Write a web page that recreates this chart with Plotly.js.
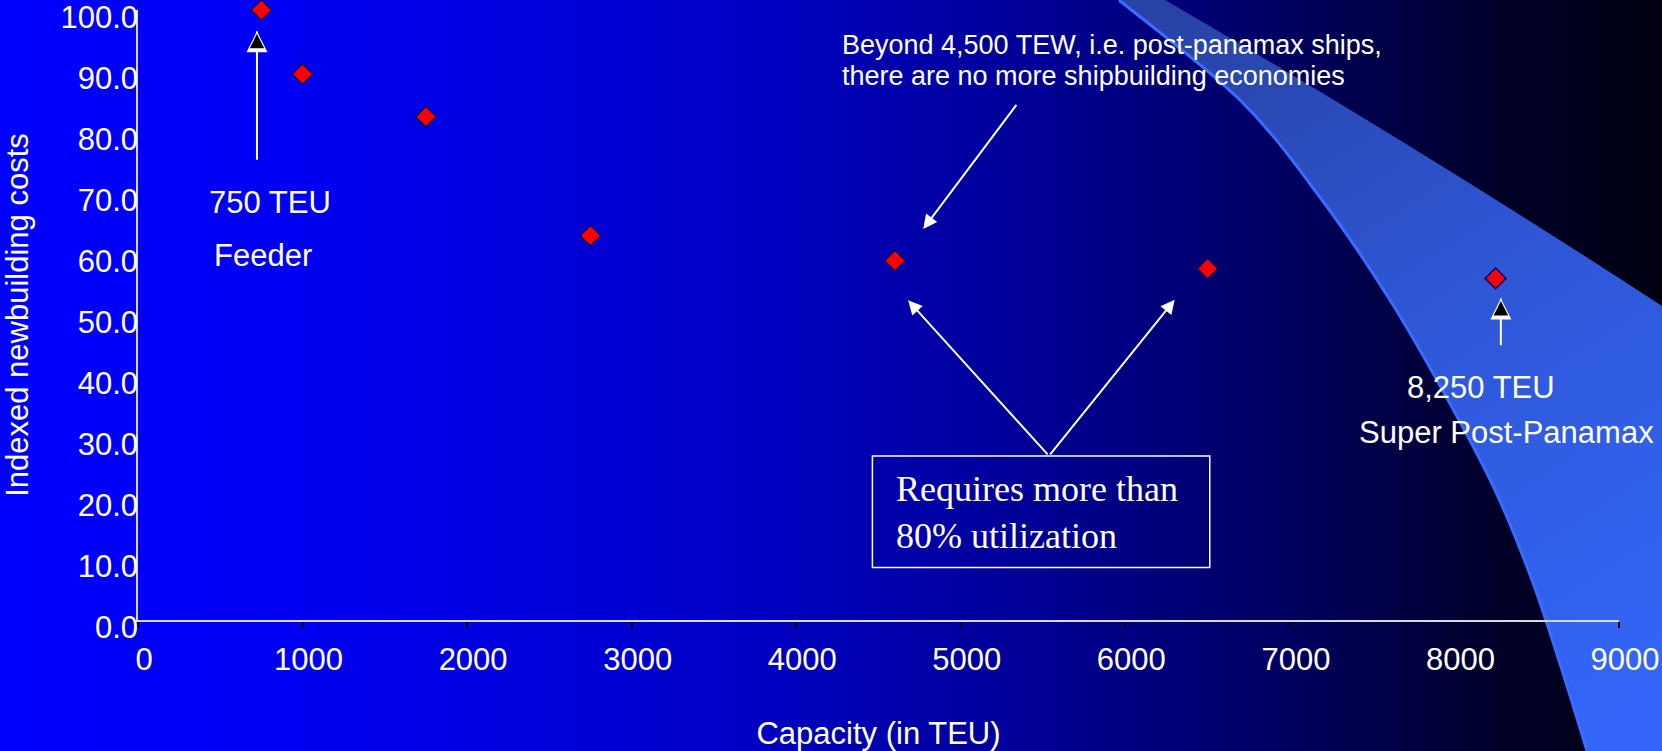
<!DOCTYPE html>
<html>
<head>
<meta charset="utf-8">
<script src="https://cdn.plot.ly/plotly-3.0.1.min.js"></script>
<style>
  html, body { margin: 0; padding: 0; overflow: hidden; }
  #wrap {
    position: relative; width: 1662px; height: 751px;
    background: linear-gradient(to right, #0000FF 0%, #0000F0 20%, #0000C4 45%, #000096 62%, #00005E 78%, #000028 90%, #000012 100%);
  }
  #deco { position: absolute; left: 0; top: 0; }
  #chart { position: absolute; left: 0; top: 0; width: 1662px; height: 751px; }
</style>
</head>
<body>
<div id="wrap">
  <svg id="deco" width="1662" height="751" xmlns="http://www.w3.org/2000/svg">
    <defs>
      <linearGradient id="sw" gradientUnits="userSpaceOnUse" x1="1200" y1="0" x2="1640" y2="700">
        <stop offset="0" stop-color="#2843A6"/>
        <stop offset="0.45" stop-color="#2E56D4"/>
        <stop offset="1" stop-color="#3366F8"/>
      </linearGradient>
    </defs>
    <path id="swfill" fill="url(#sw)" stroke="none"></path>
    <path id="swedge" fill="none" stroke="#3A6CFF" stroke-width="3"></path>
  </svg>
  <div id="chart"></div>
</div>
<script>
// ---- data ----
const capacityTEU = [750, 1000, 1750, 2750, 4600, 6500, 8250];
const indexedCost = [100.0, 89.5, 82.5, 63.0, 58.9, 57.6, 56.0];
const xTickValues = [0, 1000, 2000, 3000, 4000, 5000, 6000, 7000, 8000, 9000];
const yTickValues = [0, 10, 20, 30, 40, 50, 60, 70, 80, 90, 100];

// ---- decorative background swoosh (pixels) ----
const swooshLeftEdge = [[1119,0],[1240,100],[1322,200],[1390,300],[1448,400],[1495,490],[1532,580],[1562,670],[1587,751]];
function catmull(pts) {
  let d = `M${pts[0][0]},${pts[0][1]}`;
  for (let i = 0; i < pts.length - 1; i++) {
    const p0 = pts[Math.max(i-1,0)], p1 = pts[i], p2 = pts[i+1], p3 = pts[Math.min(i+2, pts.length-1)];
    const c1 = [p1[0] + (p2[0]-p0[0])/6, p1[1] + (p2[1]-p0[1])/6];
    const c2 = [p2[0] - (p3[0]-p1[0])/6, p2[1] - (p3[1]-p1[1])/6];
    d += ` C${c1[0]},${c1[1]} ${c2[0]},${c2[1]} ${p2[0]},${p2[1]}`;
  }
  return d;
}
const edge = catmull(swooshLeftEdge);
document.getElementById('swedge').setAttribute('d', edge);
document.getElementById('swfill').setAttribute('d', edge + ' L1662,751 L1662,306 Q1420,148 1165,0 Z');

const FONT = 'Liberation Sans, Arial, sans-serif';
const SERIF = 'Liberation Serif, Times New Roman, serif';
const W = '#FFFFFF';

const trace = {
  type: 'scatter', mode: 'markers',
  x: capacityTEU, y: indexedCost,
  cliponaxis: false,
  marker: { symbol: 'diamond', size: 16, color: '#FF0000', line: { color: '#000066', width: 1.5 } },
  hoverinfo: 'x+y'
};

function arrow(x, y, ax, ay, opts) {
  return Object.assign({ x, y, ax, ay, axref: 'x', ayref: 'y', xref: 'x', yref: 'y', text: '', showarrow: true,
    arrowhead: 2, arrowsize: 1.4, arrowwidth: 2, arrowcolor: W }, opts || {});
}
function head(x, y) {
  // black filled head with white outline: white big head + black small head on top
  return [
    { x, y, ax: 0, ay: 8, xref: 'x', yref: 'y', text: '', showarrow: true, arrowhead: 2, arrowsize: 2.1, arrowwidth: 2, arrowcolor: W },
    { x, y, ax: 0, ay: 8, xref: 'x', yref: 'y', text: '', showarrow: true, arrowhead: 2, arrowsize: 1.45, arrowwidth: 2, arrowcolor: '#000000', standoff: 2.5 }
  ];
}
function label(x, y, text, size, extra) {
  return Object.assign({ x, y, xref: 'x', yref: 'y', text, showarrow: false, font: { family: FONT, size, color: W } }, extra || {});
}

const annotations = [
  // feeder
  arrow(723, 96.5, 723, 75.2, { arrowhead: 0 }),
  ...head(723, 96.5),
  label(800, 68.5, '750 TEU', 31),
  label(758, 59.7, 'Feeder', 31),
  // super post-panamax
  arrow(8282, 52.7, 8282, 44.8, { arrowhead: 0 }),
  ...head(8282, 52.7),
  label(8160, 38.1, '8,250 TEU', 31),
  label(8319, 30.8, 'Super Post-Panamax', 31),
  // beyond 4,500
  label(4268, 94.2, 'Beyond 4,500 TEW, i.e. post-panamax ships,', 27, { xanchor: 'left', align: 'left' }),
  label(4268, 89.1, 'there are no more shipbuilding economies', 27, { xanchor: 'left', align: 'left' }),
  arrow(4772, 64.1, 5345, 84.7),
  // utilization
  arrow(4680, 52.4, 5536, 26.9),
  arrow(6300, 52.5, 5536, 26.9),
  { x: 4594, y: 17.6, xref: 'x', yref: 'y', xanchor: 'left', align: 'left', showarrow: false,
    text: 'Requires more than<br>80% utilization', font: { family: SERIF, size: 36, color: W } }
];

const layout = {
  width: 1662, height: 751,
  margin: { l: 138, r: 43, t: 10, b: 131, pad: 0 },
  paper_bgcolor: 'rgba(0,0,0,0)', plot_bgcolor: 'rgba(0,0,0,0)',
  showlegend: false,
  font: { family: FONT, color: W, size: 31 },
  xaxis: {
    range: [0, 9000], tickvals: xTickValues, ticktext: xTickValues.map(String),
    showgrid: false, zeroline: false, showline: true, linecolor: '#D8D8EC', linewidth: 1.5,
    ticks: 'outside', ticklen: 6, tickwidth: 1.5, tickcolor: '#000000',
    tickfont: { family: FONT, size: 31, color: W }, ticklabelshift: 6, ticklabelstandoff: 5,
    ticklabeloverflow: 'allow',
    title: { text: 'Capacity (in TEU)', font: { family: FONT, size: 31, color: W }, standoff: 48 }
  },
  yaxis: {
    range: [0, 100], tickvals: yTickValues, ticktext: yTickValues.map(v => v.toFixed(1)),
    showgrid: false, zeroline: false, showline: true, linecolor: '#D8D8EC', linewidth: 1.5,
    ticks: 'outside', ticklen: 6, tickwidth: 1.5, tickcolor: '#000000',
    tickfont: { family: FONT, size: 31, color: W }, ticklabelstandoff: -14, ticklabelshift: 7,
    ticklabeloverflow: 'allow',
    title: { text: 'Indexed newbuilding costs', font: { family: FONT, size: 31, color: W }, standoff: 37 }
  },
  shapes: [
    { type: 'rect', xref: 'x', yref: 'y', x0: 4463, x1: 6513, y0: 8.6, y1: 26.9, line: { color: W, width: 1.5 }, fillcolor: 'rgba(0,0,0,0)' }
  ],
  annotations
};

Plotly.newPlot('chart', [trace], layout, { displayModeBar: false, responsive: false });
</script>
</body>
</html>
